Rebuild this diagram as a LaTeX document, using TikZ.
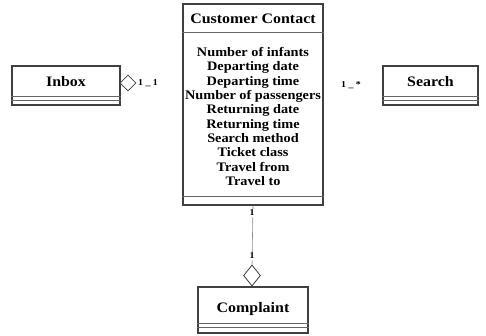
\documentclass[tikz,border=0pt]{standalone}
\usepackage{fontspec}
\setmainfont{Liberation Serif}[FakeStretch=1.1]
\usetikzlibrary{positioning, shapes.geometric}
\tikzset{
  classbox/.style={draw=black!75, line width=1.1pt, rectangle, fill=white, inner sep=0pt},
  classname/.style={font=\fontsize{14.5}{16}\selectfont\bfseries},
  attrs/.style={align=center, font=\fontsize{13}{14.3}\selectfont\bfseries},
  mult/.style={font=\fontsize{9}{10}\selectfont\bfseries, inner sep=1pt},
  agg/.style={draw=black!75, line width=0.8pt, diamond, fill=white, inner sep=0pt},
  sep/.style={draw=black!60, line width=0.6pt},
  link/.style={draw=black!45, line width=0.6pt}
}

\begin{document}
\begin{tikzpicture}[x=1pt, y=-1pt]
  \useasboundingbox (0,0) rectangle (486,335);

  % central class
  \node[classbox, minimum width=140pt, minimum height=201pt] (contact) at (253,104.5) {};
  \node[classname] (contactname) at (253,19) {Customer Contact};
  \draw[sep] ([yshift=-29pt]contact.north west) -- ([yshift=-29pt]contact.north east);
  \node[attrs] (contactattr) at (253,116.5) {Number of infants\\Departing date\\Departing time\\Number of passengers\\Returning date\\Returning time\\Search method\\Ticket class\\Travel from\\Travel to};
  \draw[sep] ([yshift=9pt]contact.south west) -- ([yshift=9pt]contact.south east);

  % side classes
  \node[classbox, minimum width=108pt, minimum height=39pt] (inbox) at (66,85.5) {};
  \node[classname] (inboxname) at (66,82) {Inbox};
  \draw[sep] ([yshift=9pt]inbox.south west) -- ([yshift=9pt]inbox.south east);
  \draw[sep] ([yshift=5pt]inbox.south west) -- ([yshift=5pt]inbox.south east);

  \node[classbox, minimum width=95pt, minimum height=39pt] (search) at (430.5,85.5) {};
  \node[classname] (searchname) at (430.5,82) {Search};
  \draw[sep] ([yshift=9pt]search.south west) -- ([yshift=9pt]search.south east);
  \draw[sep] ([yshift=5pt]search.south west) -- ([yshift=5pt]search.south east);

  \node[classbox, minimum width=110pt, minimum height=46pt] (complaint) at (253,310) {};
  \node[classname] (complaintname) at (253,309) {Complaint};
  \draw[sep] ([yshift=10pt]complaint.south west) -- ([yshift=10pt]complaint.south east);
  \draw[sep] ([yshift=6pt]complaint.south west) -- ([yshift=6pt]complaint.south east);

  % aggregations
  \node[agg, minimum width=16pt, minimum height=16pt] (inboxagg) at (128,83) {};
  \node[mult] (inboxmult) at (148,83) {1 \_ 1};
  \node[mult] (searchmult) at (351,85) {1 \_ *};

  \node[agg, minimum width=17pt, minimum height=21pt] (complaintagg) at (252,275.5) {};
  \draw[link] (contact.south) -- (complaintagg.north);
  \node[mult, fill=white] (topmult) at (252,213) {1};
  \node[mult, fill=white] (bottommult) at (252,256) {1};
\end{tikzpicture}
\end{document}
